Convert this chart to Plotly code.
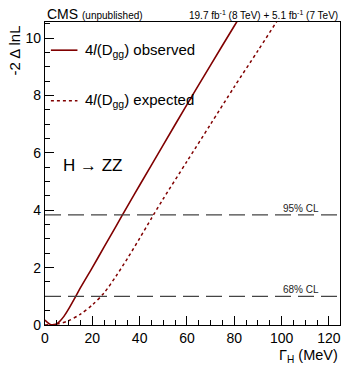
import plotly.graph_objects as go

# Observed 4l(Dgg) likelihood scan
obs_x = [0, 1, 2, 3, 4, 5, 6, 8, 10, 13, 15, 20, 25, 30, 35, 40, 50, 60, 70, 80, 85]
obs_y = [0.17, 0.09, 0.03, 0.0, 0.015, 0.05, 0.11, 0.3, 0.56, 1.0, 1.3, 2.0, 2.72, 3.44, 4.16, 4.87, 6.28, 7.68, 9.06, 10.42, 11.1]

# Expected 4l(Dgg) likelihood scan
exp_x = [0, 5, 10, 15, 20, 25, 30, 35, 40, 45, 50, 60, 70, 80, 90, 100, 105]
exp_y = [0.0, 0.03, 0.15, 0.38, 0.7, 1.12, 1.7, 2.34, 3.02, 3.72, 4.4, 5.7, 7.0, 8.3, 9.56, 10.84, 11.48]

cl_levels = [3.84, 1.0]
cl_labels = ["95% CL", "68% CL"]

x_ticks = [0, 20, 40, 60, 80, 100, 120]
y_ticks = [0, 2, 4, 6, 8, 10]

RED = "#800000"
FONT = "Liberation Sans, Arial, sans-serif"

fig = go.Figure()
fig.add_trace(go.Scatter(x=obs_x, y=obs_y, mode="lines",
                         line=dict(color=RED, width=1.6, shape="spline", smoothing=0.8),
                         showlegend=False))
fig.add_trace(go.Scatter(x=exp_x, y=exp_y, mode="lines",
                         line=dict(color=RED, width=1.5, dash="dot", shape="spline", smoothing=0.8),
                         showlegend=False))

for lvl, lab in zip(cl_levels, cl_labels):
    fig.add_shape(type="line", xref="paper", x0=0, x1=1, yref="y", y0=lvl, y1=lvl,
                  line=dict(color="#444444", width=1.2, dash="16px,7px"))
    fig.add_annotation(x=0.935, xref="paper", y=lvl, yref="y", text=lab, showarrow=False,
                       xanchor="right", yanchor="bottom", yshift=-1,
                       font=dict(family=FONT, size=10, color="#222"))

# Legend (manual)
fig.add_shape(type="line", xref="paper", yref="paper", x0=0.02, x1=0.11, y0=0.907, y1=0.907,
              line=dict(color=RED, width=1.6))
fig.add_shape(type="line", xref="paper", yref="paper", x0=0.02, x1=0.11, y0=0.74, y1=0.74,
              line=dict(color=RED, width=1.5, dash="dot"))
fig.add_annotation(x=0.13, y=0.907, xref="paper", yref="paper", showarrow=False, xanchor="left", yanchor="middle",
                   text="4<i>l</i>(D<sub>gg</sub>) observed", font=dict(family=FONT, size=15, color="black"))
fig.add_annotation(x=0.13, y=0.74, xref="paper", yref="paper", showarrow=False, xanchor="left", yanchor="middle",
                   text="4<i>l</i>(D<sub>gg</sub>) expected", font=dict(family=FONT, size=15, color="black"))
fig.add_annotation(x=0.055, y=0.528, xref="paper", yref="paper", showarrow=False, xanchor="left", yanchor="middle",
                   text="H \u2192 ZZ", font=dict(family=FONT, size=17, color="black"))

# Header
fig.add_annotation(x=0, y=1.0, xref="paper", yref="paper", showarrow=False, xanchor="left", yanchor="bottom",
                   yshift=-2,
                   text="CMS <span style='font-size:10px'>(unpublished)</span>",
                   font=dict(family=FONT, size=14, color="black"))
fig.add_annotation(x=1.0, y=1.0, xref="paper", yref="paper", showarrow=False, xanchor="right", yanchor="bottom",
                   yshift=-1,
                   text="19.7 fb<sup>-1</sup> (8 TeV) + 5.1 fb<sup>-1</sup> (7 TeV)",
                   font=dict(family=FONT, size=10, color="black"))

# Axis titles
fig.add_annotation(x=1.0, y=-0.066, xref="paper", yref="paper", showarrow=False, xanchor="right", yanchor="top",
                   text="\u0393<sub>H</sub> (MeV)", font=dict(family=FONT, size=14.5, color="black"))
fig.add_annotation(x=-0.105, y=0.995, xref="paper", yref="paper", showarrow=False, xanchor="center", yanchor="top",
                   textangle=-90, text="-2 \u0394 lnL", font=dict(family=FONT, size=15, color="black"))

fig.update_xaxes(range=[0, 124.7], tickvals=x_ticks, ticks="inside", ticklen=9, tickwidth=1, tickcolor="black",
                 showline=True, linecolor="black", linewidth=1.3, mirror=True, showgrid=False, zeroline=False,
                 minor=dict(dtick=5, tick0=0, ticks="inside", ticklen=5, tickcolor="black", showgrid=False),
                 tickfont=dict(family=FONT, size=14, color="black"))
fig.update_yaxes(range=[0, 10.56], tickvals=y_ticks, ticks="inside", ticklen=9, tickwidth=1, tickcolor="black",
                 showline=True, linecolor="black", linewidth=1.3, mirror=True, showgrid=False, zeroline=False,
                 minor=dict(dtick=0.5, tick0=0, ticks="inside", ticklen=5, tickcolor="black", showgrid=False),
                 tickfont=dict(family=FONT, size=14, color="black"))

fig.update_layout(width=342, height=366, margin=dict(l=45, r=2, t=22, b=41),
                  plot_bgcolor="white", paper_bgcolor="white", showlegend=False)

fig.write_html("out.html")
